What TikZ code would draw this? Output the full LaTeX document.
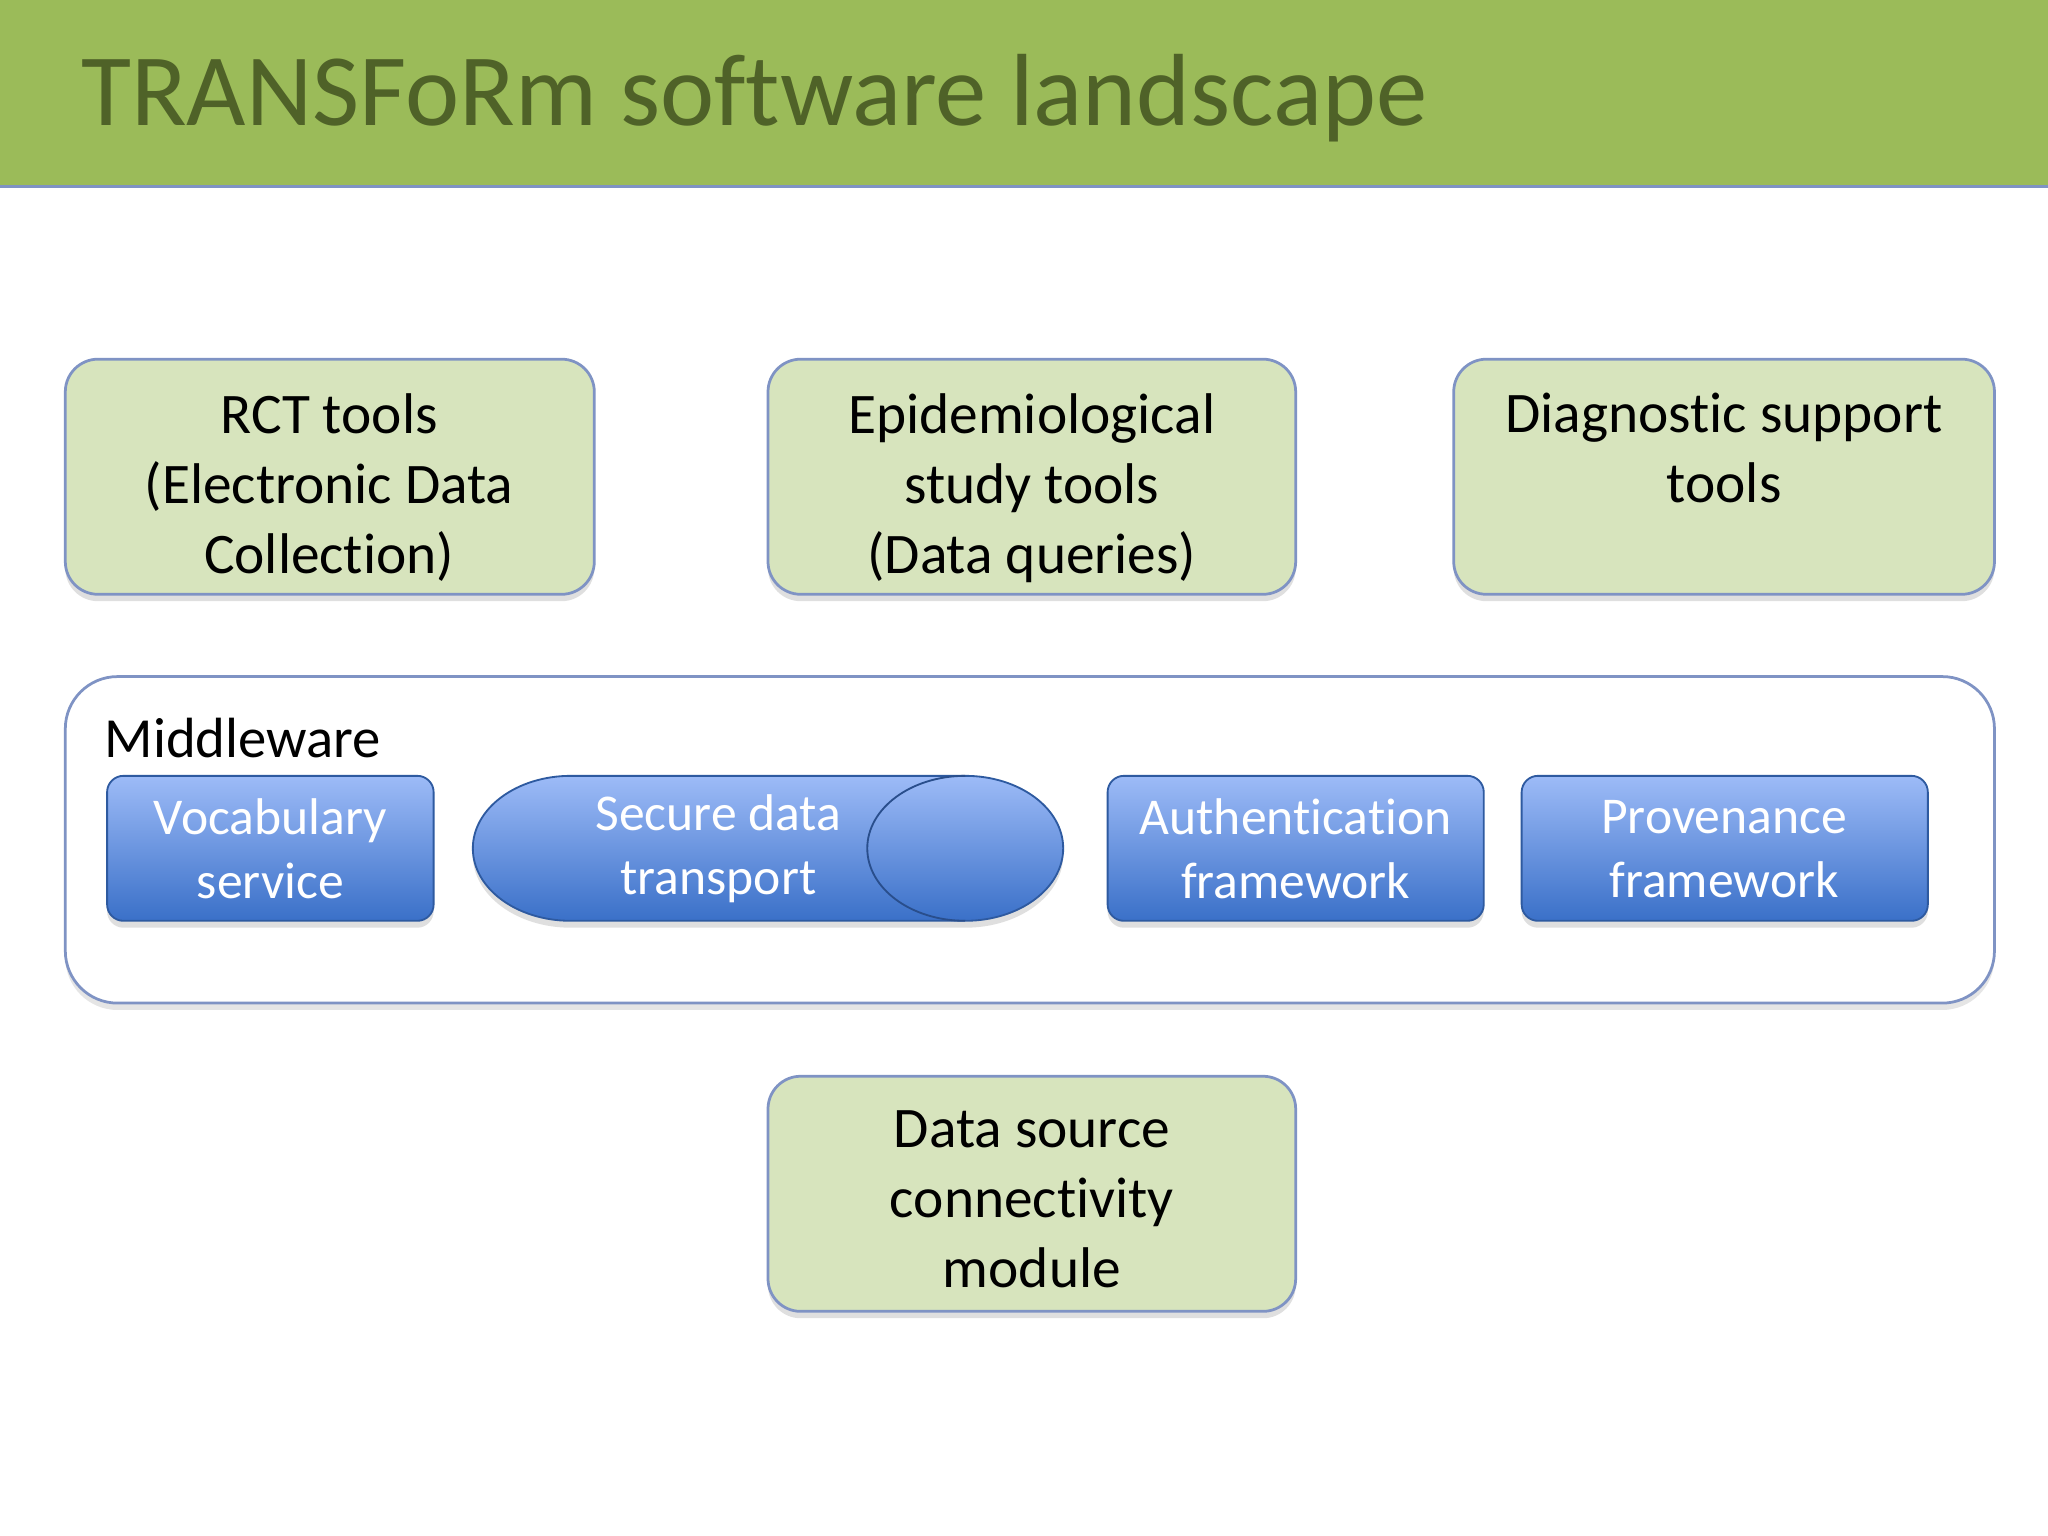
\documentclass[tikz,border=0pt]{standalone}
\usepackage{fontspec}
\setmainfont{Carlito}[Ligatures=NoCommon]
\usetikzlibrary{shadows}
\definecolor{tgreen}{HTML}{9BBB59}
\definecolor{tdark}{HTML}{4F6228}
\definecolor{boxg}{HTML}{D7E4BD}
\definecolor{edge}{HTML}{7F93C4}
\definecolor{btop}{HTML}{9DBBF7}
\definecolor{bbot}{HTML}{3A70C8}
\begin{document}
\begin{tikzpicture}[x=0.02cm,y=-0.02cm,
  gbox/.style={draw=edge,line width=1.2pt,fill=boxg,rounded corners=0.5cm,
    drop shadow={shadow xshift=0pt,shadow yshift=-3pt,opacity=0.25}},
  bbox/.style={draw=bbot!80!black,line width=0.8pt,top color=btop,bottom color=bbot,rounded corners=0.25cm,
    drop shadow={shadow xshift=0pt,shadow yshift=-3pt,opacity=0.25}},
  gtxt/.style={font=\fontsize{25}{30.5}\selectfont,align=center,text=black,anchor=north},
  btxt/.style={font=\fontsize{22.5}{28}\selectfont,align=center,text=white}]
\useasboundingbox (0,0) rectangle (1568,1176);
\fill[white] (0,0) rectangle (1568,1176);
\fill[tgreen] (0,0) rectangle (1568,142);
\draw[edge,line width=1.5pt] (0,143) -- (1568,143);
\node[anchor=west,text=tdark,font=\fontsize{44.7}{52}\selectfont] (title) at (56,75) {TRANSFoRm software landscape};
% top boxes
\path[gbox] (50,275) rectangle (455,455);
\node[gtxt] (rct) at (252,295) {RCT tools\\(Electronic Data\\Collection)};
\path[gbox] (588,275) rectangle (992,455);
\node[gtxt] (epi) at (790,295) {Epidemiological\\study tools\\(Data queries)};
\path[gbox] (1113,275) rectangle (1527,455);
\node[gtxt] (diag) at (1320,295) {Diagnostic support\\tools};
% middleware
\draw[edge,line width=1.2pt,fill=white,rounded corners=0.8cm,
  drop shadow={shadow xshift=0pt,shadow yshift=-3pt,opacity=0.2}] (50,518) rectangle (1527,768);
\node[anchor=west,font=\fontsize{24.7}{30}\selectfont] (mw) at (74,565) {Middleware};
\path[bbox] (82,594) rectangle (332,705);
\node[btxt] (voc) at (207,650) {Vocabulary\\service};
\path[draw=bbot!80!black,line width=0.8pt,top color=btop,bottom color=bbot,
  drop shadow={shadow xshift=0pt,shadow yshift=-3pt,opacity=0.25}]
  (437,594) -- (739,594) arc[start angle=270,end angle=450,x radius=75,y radius=55.5]
  -- (437,705) arc[start angle=90,end angle=270,x radius=75,y radius=55.5] -- cycle;
\draw[bbot!70!black,line width=0.8pt] (739,594) arc[start angle=270,end angle=90,x radius=75,y radius=55.5];
\node[btxt] (sec) at (550,650) {Secure data\\transport};
\path[bbox] (848,594) rectangle (1136,705);
\node[btxt] (auth) at (992,650) {Authentication\\framework};
\path[bbox] (1165,594) rectangle (1476,705);
\node[btxt] (prov) at (1320,650) {Provenance\\framework};
% bottom
\path[gbox] (588,824) rectangle (992,1004);
\node[gtxt] (ds) at (790,844) {Data source\\connectivity\\module};
\end{tikzpicture}
\end{document}
